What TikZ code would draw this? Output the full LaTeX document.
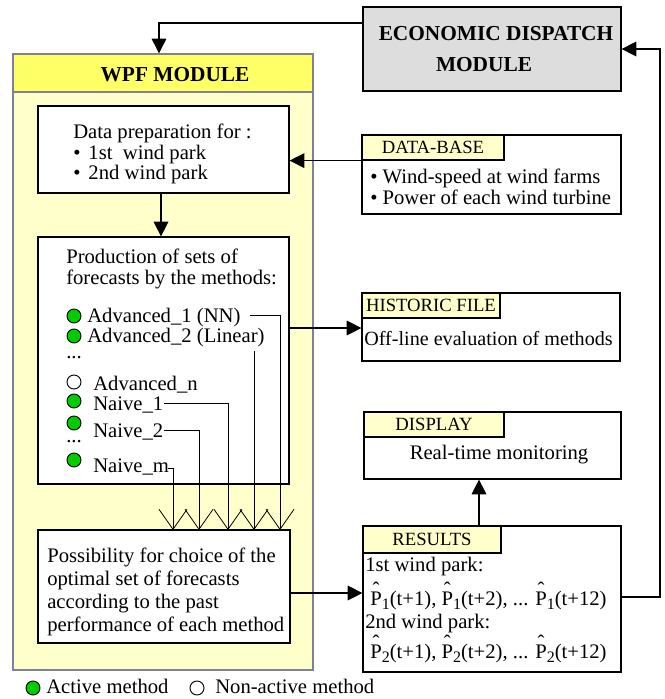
\documentclass[tikz,border=0pt]{standalone}
\usepackage{fontspec}
\setmainfont{Liberation Serif}
\usetikzlibrary{arrows.meta,fit}
\definecolor{wpfbg}{RGB}{255,255,204}
\definecolor{wpfhead}{RGB}{255,255,102}
\definecolor{wpfline}{RGB}{128,128,150}
\definecolor{edgray}{RGB}{221,221,221}
\definecolor{tabfill}{RGB}{255,255,204}
\definecolor{activegreen}{RGB}{0,204,0}
\newcommand\Phat[1]{\ooalign{P\cr\hidewidth\raisebox{6.5pt}{^^^^02c6}\hidewidth\cr}\raisebox{-3.5pt}{\fontsize{12}{12}\selectfont #1}}
\begin{document}
\begin{tikzpicture}[x=0.75pt,y=-0.75pt,
  font=\fontsize{15.5}{17}\selectfont,
  box/.style={draw=black,line width=0.9pt,fill=white,inner sep=0pt},
  tab/.style={draw=black,line width=0.9pt,fill=tabfill,inner sep=0pt},
  tabtxt/.style={inner sep=0pt,font=\fontsize{14}{16}\selectfont},
  hdtxt/.style={inner sep=0pt,anchor=base,font=\fontsize{16}{18}\selectfont\bfseries},
  txt/.style={inner sep=0pt,anchor=base west,align=left},
  ctxt/.style={inner sep=0pt,anchor=base},
  farrow/.style={line width=0.8pt,-{Triangle[length=11pt,width=11pt]}},
  varrow/.style={line width=0.6pt,-{Straight Barb[length=15pt,width=21pt,line width=0.6pt]}},
  act/.style={circle,draw=black,line width=0.7pt,fill=activegreen,minimum size=10.5pt,inner sep=0pt},
  nact/.style={circle,draw=black,line width=0.7pt,fill=white,minimum size=10.5pt,inner sep=0pt}]
\useasboundingbox (0,0) rectangle (664,699);

% WPF module
\node[draw=wpfline,line width=1pt,fill=wpfbg,inner sep=0pt,fit={(13,54)(313,670)}] (wpf) {};
\node[draw=wpfline,line width=1pt,fill=wpfhead,inner sep=0pt,fit={(13,54)(313,92)}] (wpfh) {};
\node[hdtxt] (wpft) at (175,81) {WPF MODULE};

% Economic dispatch
\node[box,fill=edgray,fit={(363,7)(621,91)}] (ed) {};
\node[hdtxt] (ed1) at (496,41) {ECONOMIC DISPATCH};
\node[hdtxt] (ed2) at (484,71) {MODULE};

% Data preparation
\node[box,fit={(38,106)(289,193)}] (data) {};
\node[txt] (datat) at (73,138) {Data preparation for :};
\node[txt] (datab1) at (73,159) {\textbullet\hspace{6pt}1st\ \ wind park};
\node[txt] (datab2) at (73,179) {\textbullet\hspace{6pt}2nd wind park};

% Production box
\node[box,fit={(38,237)(289,484)}] (prod) {};
\node[txt] (prod1) at (66,263) {Production of sets of};
\node[txt] (prod2) at (66,284) {forecasts by the methods:};
\node[act] (ca1) at (74,316) {};
\node[txt] (a1) at (87,322) {Advanced\_1 (NN)};
\node[act] (ca2) at (74,336) {};
\node[txt] (a2) at (87,342) {Advanced\_2 (Linear)};
\node[txt] (d1) at (66,358) {...};
\node[nact] (can) at (74,382) {};
\node[txt] (an) at (93,390) {Advanced\_n};
\node[act] (cn1) at (74,401) {};
\node[txt] (n1) at (93,410) {Naive\_1};
\node[act] (cn2) at (74,423) {};
\node[txt] (n2) at (93,437) {Naive\_2};
\node[txt] (d2) at (66,442) {...};
\node[act] (cnm) at (74,460) {};
\node[txt] (nm) at (93,472) {Naive\_m};

% Choice box
\node[box,fit={(38,530)(290,643)}] (choice) {};
\node[txt] (ch1) at (47,562) {Possibility for choice of the};
\node[txt] (ch2) at (47,585) {optimal set of forecasts};
\node[txt] (ch3) at (47,608) {according to the past};
\node[txt] (ch4) at (47,631) {performance of each method};

% arrow tips on choice box
\coordinate (t1) at (173,530);
\coordinate (t2) at (199,530);
\coordinate (t3) at (228,530);
\coordinate (t4) at (254,530);
\coordinate (t5) at (280,530);
\draw[varrow] ([xshift=-22.5pt]t5 |- 0,315) -| (t5);
\draw[varrow] (t4 |- 0,351) -- (t4);
\draw[varrow] (n1.east |- 0,403) -| (t3);
\draw[varrow] (n2.east |- 0,430) -| (t2);
\draw[varrow] ([xshift=-4pt]t1 |- 0,468) -| (t1);

% DATA-BASE
\node[box,fit={(362,135)(621,214)}] (db) {};
\node[tab,fit={(362,135)(504,160)}] (dbtab) {};
\node[tabtxt] (dbtabt) at (dbtab.center) {DATA-BASE};
\node[txt] (db1) at (370,183) {\textbullet\ Wind-speed at wind farms};
\node[txt] (db2) at (370,204) {\textbullet\ Power of each wind turbine};

% HISTORIC FILE
\node[box,fit={(362,293)(620,361)}] (hf) {};
\node[tab,fit={(362,293)(500,318)}] (hftab) {};
\node[tabtxt] (hftabt) at (hftab.center) {HISTORIC FILE};
\node[txt,font=\fontsize{15.1}{17}\selectfont] (hft) at (364,345) {Off-line evaluation of methods};

% DISPLAY
\node[box,fit={(364,412)(621,479)}] (disp) {};
\node[tab,fit={(364,412)(504,437)}] (disptab) {};
\node[tabtxt] (disptabt) at (disptab.center) {DISPLAY};
\node[ctxt] (dispt) at (499,459) {Real-time monitoring};

% RESULTS
\node[box,fit={(363,526)(621,672)}] (res) {};
\node[tab,fit={(363,526)(501,553)}] (restab) {};
\node[tabtxt] (restabt) at (restab.center) {RESULTS};
\node[txt] (r1) at (365,571) {1st wind park:};
\node[txt] (r2) at (370,605) {\Phat{1}(t+1), \Phat{1}(t+2), ... \Phat{1}(t+12)};
\node[txt] (r3) at (365,628) {2nd wind park:};
\node[txt] (r4) at (370,658) {\Phat{2}(t+1), \Phat{2}(t+2), ... \Phat{2}(t+12)};

% Legend
\node[act] (la) at (33,688) {};
\node[txt] (lat) at (46,693) {Active method};
\node[nact] (ln) at (197,688) {};
\node[txt] (lnt) at (215,693) {Non-active method};

% Connectors
\coordinate (topturn) at (159,23);
\draw[farrow] (ed.west |- topturn) -- (topturn) -- (topturn |- wpf.north);
\draw[farrow] (data.south -| 161,0) -- (prod.north -| 161,0);
\draw[farrow] (db.west |- dbtab.south) -- (data.east |- dbtab.south);
\draw[farrow] (prod.east |- 0,328) -- (hf.west |- 0,328);
\draw[farrow] (choice.east |- 0,593) -- (res.west |- 0,593);
\draw[farrow] (res.north -| 479,0) -- (disp.south -| 479,0);
\coordinate (rturn) at (660,597);
\draw[farrow] (res.east |- rturn) -- (rturn) -- (rturn |- 0,49) -- (ed.east |- 0,49);
\end{tikzpicture}
\end{document}
